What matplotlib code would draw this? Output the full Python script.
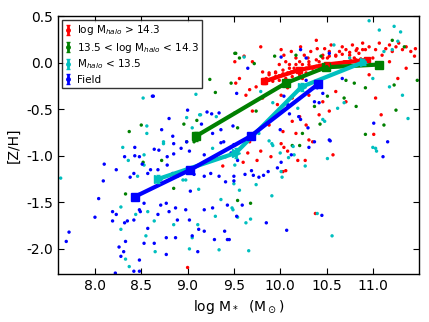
import matplotlib
matplotlib.use('Agg')
import matplotlib.pyplot as plt
from matplotlib.ticker import FormatStrFormatter, MultipleLocator, FixedLocator

# scatter points (log M*, [Z/H])
red_pts = [
    (9.52, -0.22), (9.56, -0.17), (9.61, 0.07), (9.70, 0.01), (9.79, 0.17), (9.81, -0.10),
    (9.74, -0.26), (9.67, -0.29), (9.63, -0.35), (9.85, -0.17), (9.88, -0.11), (9.92, -0.20),
    (9.95, -0.10), (9.99, -0.02), (10.01, 0.14), (10.04, 0.08), (10.06, 0.01), (10.10, -0.02),
    (10.12, 0.12), (10.15, -0.06), (10.17, 0.05), (10.21, 0.01), (10.22, 0.17), (10.24, -0.17),
    (10.26, 0.08), (10.30, 0.05), (10.31, -0.02), (10.33, 0.12), (10.35, -0.06), (10.39, 0.24),
    (10.40, 0.15), (10.42, 0.01), (10.46, 0.08), (10.48, 0.15), (10.51, 0.05), (10.53, 0.12),
    (10.55, 0.19), (10.58, -0.02), (10.60, 0.07), (10.64, 0.12), (10.67, 0.17), (10.69, 0.01),
    (10.71, 0.14), (10.75, 0.08), (10.78, 0.19), (10.80, 0.05), (10.83, 0.15), (10.85, 0.10),
    (10.89, 0.21), (10.92, 0.14), (10.96, 0.17), (11.00, 0.05), (11.03, 0.14), (11.07, 0.21),
    (11.10, 0.08), (11.14, 0.15), (11.18, 0.19), (11.21, 0.12), (11.25, 0.17), (11.28, 0.21),
    (11.32, 0.14), (11.36, 0.17), (11.41, 0.12), (11.45, 0.07), (11.46, 0.15), (11.18, 0.01),
    (11.36, -0.06), (11.27, -0.17), (10.96, -0.13), (11.03, -0.38), (11.09, -0.56), (11.01, -0.77),
    (10.35, -0.85), (10.28, -0.67), (10.42, -0.56), (10.53, -0.52), (10.21, -0.58), (10.13, -0.38),
    (10.08, -0.27), (10.01, -0.35), (9.97, -0.45), (9.94, -0.56), (9.88, -0.67), (10.60, -0.31),
    (10.71, -0.42), (10.46, -0.42), (10.17, -0.76), (10.03, -0.74), (10.13, -0.63), (10.31, -0.35),
    (9.81, -0.38), (9.70, -0.52),
    (9.88, -0.19), (9.92, -0.17), (9.95, -0.15), (9.99, -0.14), (10.03, -0.12), (10.08, -0.11),
    (10.12, -0.10), (10.17, -0.09), (10.22, -0.08), (10.28, -0.06), (10.33, -0.05), (10.39, -0.04),
    (10.44, -0.03), (10.49, -0.02), (10.55, -0.02), (10.60, -0.01), (10.66, 0.00), (10.71, 0.01),
    (10.76, 0.02), (10.82, 0.03), (10.87, 0.04), (9.99, -0.19), (10.06, -0.17), (10.13, -0.15),
    (10.21, -0.13), (10.28, -0.11), (10.35, -0.10), (10.42, -0.08), (10.49, -0.06), (10.57, -0.05),
    (10.64, -0.03), (10.75, -0.02), (9.88, -0.13), (9.95, -0.11), (10.03, -0.08), (10.10, -0.06),
    (10.17, -0.02), (10.24, -0.02), (10.31, 0.01), (10.39, 0.03), (10.46, 0.05), (10.53, 0.07),
    (10.60, 0.08), (10.67, 0.09), (10.75, 0.11), (10.82, 0.13), (10.89, 0.14),
    (9.67, -0.85), (9.79, -0.95), (9.65, -0.97), (9.60, -1.07), (9.75, -1.05), (9.90, -1.01),
    (10.01, -0.87), (10.04, -0.91), (10.08, -0.95), (10.03, -1.17), (10.06, -1.16), (10.19, -1.05),
    (10.27, -1.05), (10.31, -0.83), (10.57, -0.99), (10.38, -1.62), (9.00, -2.20), (9.51, 0.01),
    (9.38, -1.11),
]

green_pts = [
    (9.72, -0.01), (9.56, 0.05), (9.94, 0.07), (10.17, 0.08), (10.44, 0.07), (11.21, 0.24),
    (11.34, 0.17), (11.48, -0.19), (11.23, -0.24), (10.92, -0.27), (10.80, -0.22), (10.51, -0.36),
    (10.37, -0.47), (11.25, -0.51), (11.12, -0.67), (10.82, -0.47), (9.51, -0.54), (9.74, -0.52),
    (10.24, -0.76), (10.69, -0.38), (9.51, 0.10), (9.47, -0.22), (9.24, -0.18), (8.96, -0.66),
    (8.50, -0.67), (8.37, -0.74), (9.10, -0.62), (8.99, -0.85), (9.07, -0.85), (8.52, -1.07),
    (8.72, -1.05), (8.85, -1.35), (8.33, -1.41), (9.54, -1.48), (9.68, -1.51), (10.21, -0.89),
    (9.30, -0.32), (9.52, 0.10), (10.13, -0.89), (9.54, -0.70), (10.92, -0.77), (10.71, -0.19),
    (10.43, -0.66),
]

cyan_pts = [
    (7.63, -1.24), (8.30, -0.91), (8.53, -0.99), (8.74, -0.87), (9.27, -0.92), (8.46, -1.22),
    (8.71, -1.26), (8.98, -1.26), (9.12, -1.36), (9.36, -1.47), (9.48, -1.56), (8.44, -1.63),
    (8.57, -1.60), (8.64, -1.70), (8.85, -1.74), (9.11, -1.74), (8.55, -1.86), (8.28, -1.79),
    (8.33, -2.11), (8.65, -2.03), (8.37, -2.19), (9.02, -2.00), (9.34, -2.01), (8.36, -1.05),
    (8.53, -1.10), (9.05, -1.88), (9.30, -1.65), (9.50, -1.30), (8.28, -1.55),
    (8.52, -0.38), (9.09, -0.34), (8.99, -0.59), (9.14, -0.56), (8.56, -0.68), (8.56, -0.76),
    (8.74, -0.85), (9.05, -0.70),
    (9.88, -0.84), (9.91, -0.87), (10.00, -0.97), (10.09, -1.02), (10.14, -0.90), (10.15, -0.99),
    (10.27, -1.11), (10.51, -1.03), (11.00, -0.91), (11.04, -0.95), (9.51, -1.10), (9.56, -1.37),
    (9.74, -1.31), (9.91, -1.43), (10.02, -1.23), (9.49, -1.58), (9.54, -1.66), (9.63, -1.72),
    (9.68, -1.68), (10.40, -1.62), (10.56, -1.86), (9.66, -2.02),
    (10.96, 0.45), (11.07, 0.35), (11.23, 0.39), (11.30, 0.33), (11.27, 0.23), (11.21, 0.14),
    (11.12, 0.12), (10.58, 0.19), (10.75, 0.05), (11.18, -0.26), (11.00, -0.17), (11.32, -0.35),
    (10.69, -0.43), (10.62, -0.49), (10.48, -0.63), (9.61, 0.06), (9.79, -0.31), (9.92, -0.43),
    (10.90, 0.02), (11.38, -0.60), (11.05, -0.05),
    (9.77, -0.76), (9.92, -0.89), (10.01, -1.17), (10.46, -0.61), (11.03, -0.92), (10.19, -0.49),
    (9.31, -0.58), (9.13, -0.56), (8.95, -1.26), (8.66, -1.26),
]

blue_pts = [
    (8.43, -0.91), (8.32, -1.01), (8.43, -1.00), (8.48, -1.01), (8.64, -0.93), (8.69, -0.94),
    (8.85, -0.87), (8.85, -0.98), (8.78, -1.01), (8.93, -0.92), (9.02, -0.95), (9.18, -0.99),
    (9.36, -0.86), (9.41, -1.01), (9.47, -0.97), (8.23, -1.15), (8.09, -1.27), (8.10, -1.09),
    (8.38, -1.23), (8.42, -1.19), (8.57, -1.19), (8.60, -1.15), (8.51, -1.09), (8.68, -1.15),
    (8.78, -1.10), (8.84, -1.19), (8.89, -1.22), (9.03, -1.38), (9.07, -1.20), (9.18, -1.22),
    (9.25, -1.19), (9.34, -1.22), (9.41, -1.28), (9.50, -1.22), (9.43, -1.53), (9.53, -1.65),
    (8.53, -1.51), (8.48, -1.58), (8.19, -1.60), (8.23, -1.63), (8.19, -1.70), (8.32, -1.72),
    (8.35, -1.70), (8.42, -1.69), (8.49, -1.60), (8.68, -1.63), (8.71, -1.53), (8.77, -1.51),
    (8.80, -1.60), (8.87, -1.56), (8.89, -1.69), (8.98, -1.58), (9.02, -1.69), (9.18, -1.58),
    (9.27, -1.56), (8.57, -1.78), (8.77, -1.88), (8.87, -1.88), (9.05, -1.86), (9.12, -1.79),
    (9.18, -1.81), (9.29, -1.90), (9.40, -1.81), (9.43, -1.90), (8.33, -1.92), (8.26, -1.98),
    (8.31, -2.03), (8.28, -2.08), (8.48, -2.12), (8.53, -1.94), (8.64, -1.94), (8.42, -2.24),
    (8.77, -2.06), (9.11, -2.03), (9.45, -1.90), (8.04, -1.46), (8.00, -1.66), (7.72, -1.82),
    (7.69, -1.92), (8.22, -2.26), (8.48, -2.24),
    (9.53, -0.33), (8.62, -0.36), (9.21, -0.53), (9.26, -0.55), (9.34, -0.54), (8.72, -0.72),
    (8.84, -0.79), (8.99, -0.85), (9.39, -0.85), (9.36, -0.72), (9.15, -0.66), (9.27, -0.76),
    (9.50, -0.88), (9.54, -1.05), (9.62, -1.20), (9.69, -1.16), (9.71, -1.21), (9.77, -1.23),
    (9.82, -1.21), (9.87, -1.17), (9.50, -1.27), (9.97, -1.13), (10.01, -1.07), (10.12, -0.99),
    (10.31, -0.91), (10.37, -0.85), (10.54, -0.84), (11.11, -1.01), (11.16, -0.85), (9.59, -1.53),
    (9.85, -1.72), (10.07, -1.80), (10.45, -1.64),
    (9.65, -0.06), (10.01, 0.06), (10.22, 0.14), (10.28, 0.05), (10.53, 0.10), (10.67, -0.17),
    (10.28, -0.19), (10.04, -0.36), (10.08, -0.45), (10.40, -0.27), (10.42, -0.43), (11.01, -0.65),
    (9.88, -0.63), (9.49, -0.68), (10.20, -0.58), (10.30, -0.70), (10.00, -0.72), (10.10, -0.55),
    (10.37, -0.42), (10.46, -0.33), (10.22, -0.61), (10.53, -0.83), (8.80, -0.60), (8.63, -0.36),
    (9.00, -0.51),
]

# binned medians
red_x = [9.83, 10.20, 10.50, 10.94]
red_y = [-0.20, -0.08, -0.02, 0.03]
red_err = [0.03, 0.02, 0.02, 0.02]
green_x = [9.09, 10.06, 10.49, 11.07]
green_y = [-0.79, -0.22, -0.05, -0.02]
green_err = [0.05, 0.03, 0.03, 0.03]
cyan_x = [8.68, 9.52, 10.23, 10.91]
cyan_y = [-1.25, -0.97, -0.26, 0.01]
cyan_err = [0.04, 0.05, 0.04, 0.03]
blue_x = [8.43, 9.03, 9.68, 10.41]
blue_y = [-1.44, -1.15, -0.79, -0.23]
blue_err = [0.03, 0.03, 0.03, 0.03]

labels = [r'log M$_{halo}$ > 14.3', r'13.5 < log M$_{halo}$ < 14.3',
          r'M$_{halo}$ < 13.5', 'Field']
xticks = [8.0, 8.5, 9.0, 9.5, 10.0, 10.5, 11.0]

plt.rcParams['font.family'] = 'DejaVu Sans'
fig = plt.figure(figsize=(4.29, 3.22), dpi=100)
ax = fig.add_axes([0.135, 0.149, 0.842, 0.801])

groups = [
    ('r', red_pts, red_x, red_y, red_err, 's', 4),
    ('g', green_pts, green_x, green_y, green_err, 's', 6),
    ('c', cyan_pts, cyan_x, cyan_y, cyan_err, '>', 6),
    ('b', blue_pts, blue_x, blue_y, blue_err, 's', 6),
]

for col, pts, *_ in groups:
    xs = [p[0] for p in pts]
    ys = [p[1] for p in pts]
    ax.scatter(xs, ys, s=6, c=col, edgecolors='none', zorder=2)

for (col, pts, bx, by, be, mk, ms), lab in zip(groups, labels):
    ax.plot(bx, by, '-', color=col, lw=3, marker=mk, ms=ms, mec=col, zorder=3)
    ax.errorbar(bx, by, yerr=be, fmt='o', color=col, ms=2.5, elinewidth=2,
                capsize=1.5, capthick=1, ls='none', label=lab, zorder=4)

ax.set_xlim(7.6, 11.5)
ax.set_ylim(-2.27, 0.5)
ax.xaxis.set_major_locator(FixedLocator(xticks))
ax.yaxis.set_major_locator(MultipleLocator(0.5))
ax.xaxis.set_major_formatter(FormatStrFormatter('%.1f'))
ax.yaxis.set_major_formatter(FormatStrFormatter('%.1f'))
ax.tick_params(direction='in', top=True, right=True, length=4, labelsize=10)
for sp in ax.spines.values():
    sp.set_linewidth(1)

ax.set_xlabel(r'log M$_*$  (M$_\odot$)', fontsize=10)
ax.set_ylabel('[Z/H]', fontsize=10)

leg = ax.legend(loc='upper left', fontsize=7.5, numpoints=1, fancybox=False,
                handlelength=0.6, handletextpad=0.5, borderpad=0.3,
                labelspacing=0.3, borderaxespad=0.4)
leg.get_frame().set_edgecolor('black')
leg.get_frame().set_linewidth(1)

fig.savefig('out.png', dpi=100)
